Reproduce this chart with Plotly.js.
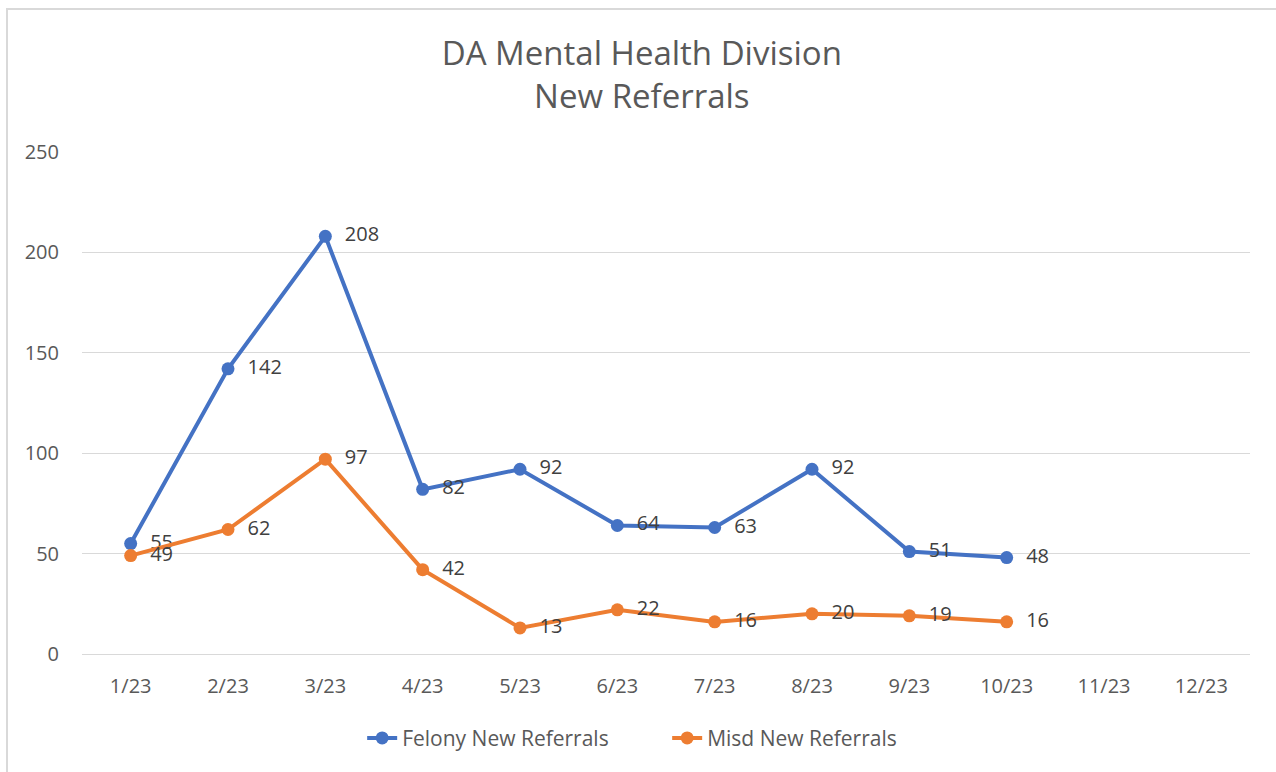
<!DOCTYPE html>
<html>
<head>
<meta charset="utf-8">
<script src="https://cdn.plot.ly/plotly-3.0.1.min.js"></script>
<style>
html,body{margin:0;padding:0;background:#fff;overflow:hidden;}
#wrap{position:relative;width:1276px;height:772px;}
#frame{position:absolute;left:6px;top:8px;width:1300px;height:800px;border-left:2px solid #d9d9d9;border-top:2px solid #d9d9d9;pointer-events:none;z-index:5;}
#chart{position:absolute;left:0;top:0;width:1276px;height:772px;}
</style>
</head>
<body>
<div id="wrap"><div id="chart"></div><div id="frame"></div></div>
<script>
const months = ["1/23","2/23","3/23","4/23","5/23","6/23","7/23","8/23","9/23","10/23","11/23","12/23"];
const felony = [55,142,208,82,92,64,63,92,51,48,null,null];
const misd = [49,62,97,42,13,22,16,20,19,16,null,null];
const felonyName = "Felony New Referrals";
const misdName = "Misd New Referrals";

function labels(arr){ return arr.map(v => v === null ? "" : "  " + v); }

const font = "Open Sans, Liberation Sans, sans-serif";
const traces = [
  {x: months, y: felony, name: felonyName, type: "scatter", mode: "lines+markers+text",
   line: {color: "#4472C4", width: 4}, marker: {color: "#4472C4", size: 13},
   text: labels(felony), textposition: "middle right",
   textfont: {size: 20, color: "#404040", family: font}, cliponaxis: false},
  {x: months, y: misd, name: misdName, type: "scatter", mode: "lines+markers+text",
   line: {color: "#ED7D31", width: 4}, marker: {color: "#ED7D31", size: 13},
   text: labels(misd), textposition: "middle right",
   textfont: {size: 20, color: "#404040", family: font}, cliponaxis: false}
];

const layout = {
  width: 1276, height: 772,
  paper_bgcolor: "#fff", plot_bgcolor: "#fff",
  margin: {l: 82, r: 26, t: 152, b: 118},
  font: {family: font, color: "#595959", size: 20},
  title: {text: "DA Mental Health Division<br>New Referrals", x: 0.503, xanchor: "center",
          xref: "container", yref: "container",
          y: 0.916, yanchor: "top", font: {size: 33, color: "#595959", family: font}},
  xaxis: {type: "category", range: [-0.5, 11.5], autorange: false, showgrid: false, zeroline: false, showline: false,
          ticks: "", ticklabelstandoff: 18, tickfont: {size: 20, color: "#595959"}},
  yaxis: {range: [0, 250], dtick: 50, showgrid: true, gridcolor: "#d9d9d9", gridwidth: 1,
          zeroline: true, zerolinecolor: "#d9d9d9", zerolinewidth: 1, showline: false,
          ticks: "", ticklabelstandoff: 22, tickfont: {size: 20, color: "#595959"}},
  showlegend: true,
  legend: {orientation: "h", x: 0.501, xanchor: "center", y: -0.127, yanchor: "top",
           entrywidth: 260, entrywidthmode: "pixels",
           font: {size: 21, color: "#595959"}}
};

Plotly.newPlot("chart", traces, layout, {displayModeBar: false, staticPlot: true});
</script>
</body>
</html>
